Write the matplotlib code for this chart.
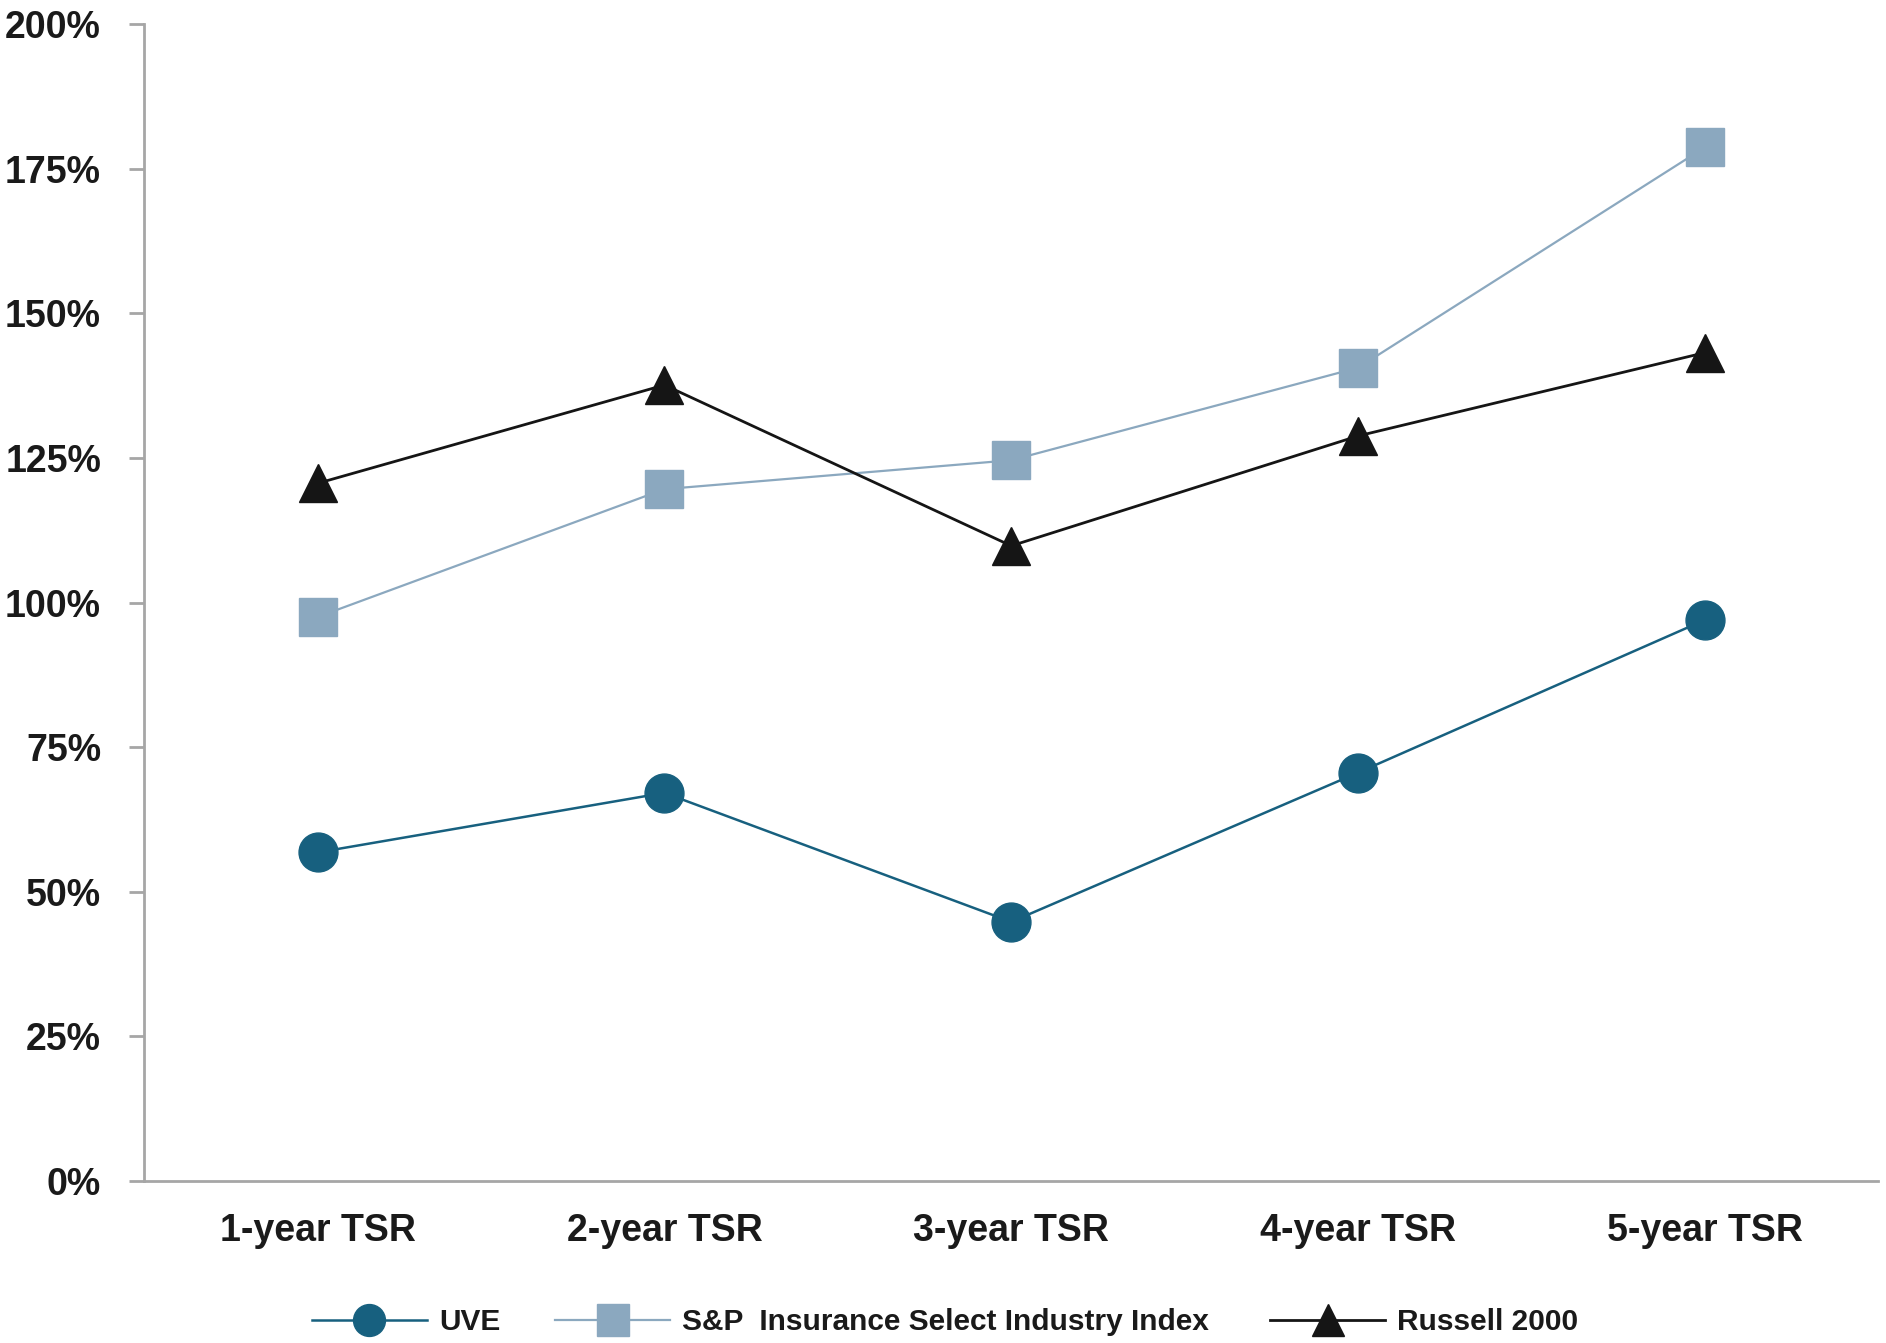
import matplotlib
matplotlib.use("Agg")
import matplotlib.pyplot as plt
from matplotlib.ticker import FuncFormatter

categories = ["1-year TSR", "2-year TSR", "3-year TSR", "4-year TSR", "5-year TSR"]
uve = [56.8, 67.1, 44.8, 70.6, 97.0]
sp_insurance = [97.5, 119.6, 124.6, 140.6, 178.7]
russell = [120.6, 137.6, 109.8, 128.8, 143.2]
series_names = ["UVE", "S&P  Insurance Select Industry Index", "Russell 2000"]
yticks = [0, 25, 50, 75, 100, 125, 150, 175, 200]

plt.rcParams['font.family'] = ['Liberation Sans', 'DejaVu Sans']

fig = plt.figure(figsize=(18.86, 13.43), dpi=100)
ax = fig.add_axes([0.0764, 0.1206, 0.9196, 0.8615])

x = list(range(len(categories)))
l1, = ax.plot(x, uve, color="#17607f", lw=1.8, marker="o", ms=28, mec="#17607f",
              mfc="#17607f", label=series_names[0], zorder=3)
l2, = ax.plot(x, sp_insurance, color="#8ba8bf", lw=1.6, marker="s", ms=28, mec="#8ba8bf",
              mfc="#8ba8bf", label=series_names[1], zorder=3)
l3, = ax.plot(x, russell, color="#151515", lw=2.0, marker="^", ms=28, mec="#151515",
              mfc="#151515", label=series_names[2], zorder=3)

ax.set_xlim(-0.5, len(categories) - 0.5)
ax.set_ylim(0, 200)
ax.set_yticks(yticks)
ax.yaxis.set_major_formatter(FuncFormatter(lambda v, p: f"{int(v)}%"))
ax.set_xticks(x)
ax.set_xticklabels(categories)

for s in ["top", "right"]:
    ax.spines[s].set_visible(False)
for s in ["left", "bottom"]:
    ax.spines[s].set_color("#a6a6a6")
    ax.spines[s].set_linewidth(2)
    ax.spines[s].set_clip_on(False)

ax.tick_params(axis="y", length=11, width=2, color="#a6a6a6", pad=20,
               labelsize=27, labelcolor="#1a1a1a")
ax.tick_params(axis="x", length=0, pad=23, labelsize=27, labelcolor="#1a1a1a")
for lbl in ax.get_xticklabels() + ax.get_yticklabels():
    lbl.set_fontweight("bold")

legend_x = [0.1654, 0.2943, 0.6734]
for handle, name, lx in zip([l1, l2, l3], series_names, legend_x):
    leg = fig.legend([handle], [name], loc="center left", bbox_to_anchor=(lx, 0.0156),
                     frameon=False, handlelength=3.85, markerscale=0.82,
                     handletextpad=0.4, borderpad=0, borderaxespad=0,
                     prop={"size": 21.5, "weight": "bold"})
    for t in leg.get_texts():
        t.set_color("#1a1a1a")

fig.savefig("out.png", dpi=100)
